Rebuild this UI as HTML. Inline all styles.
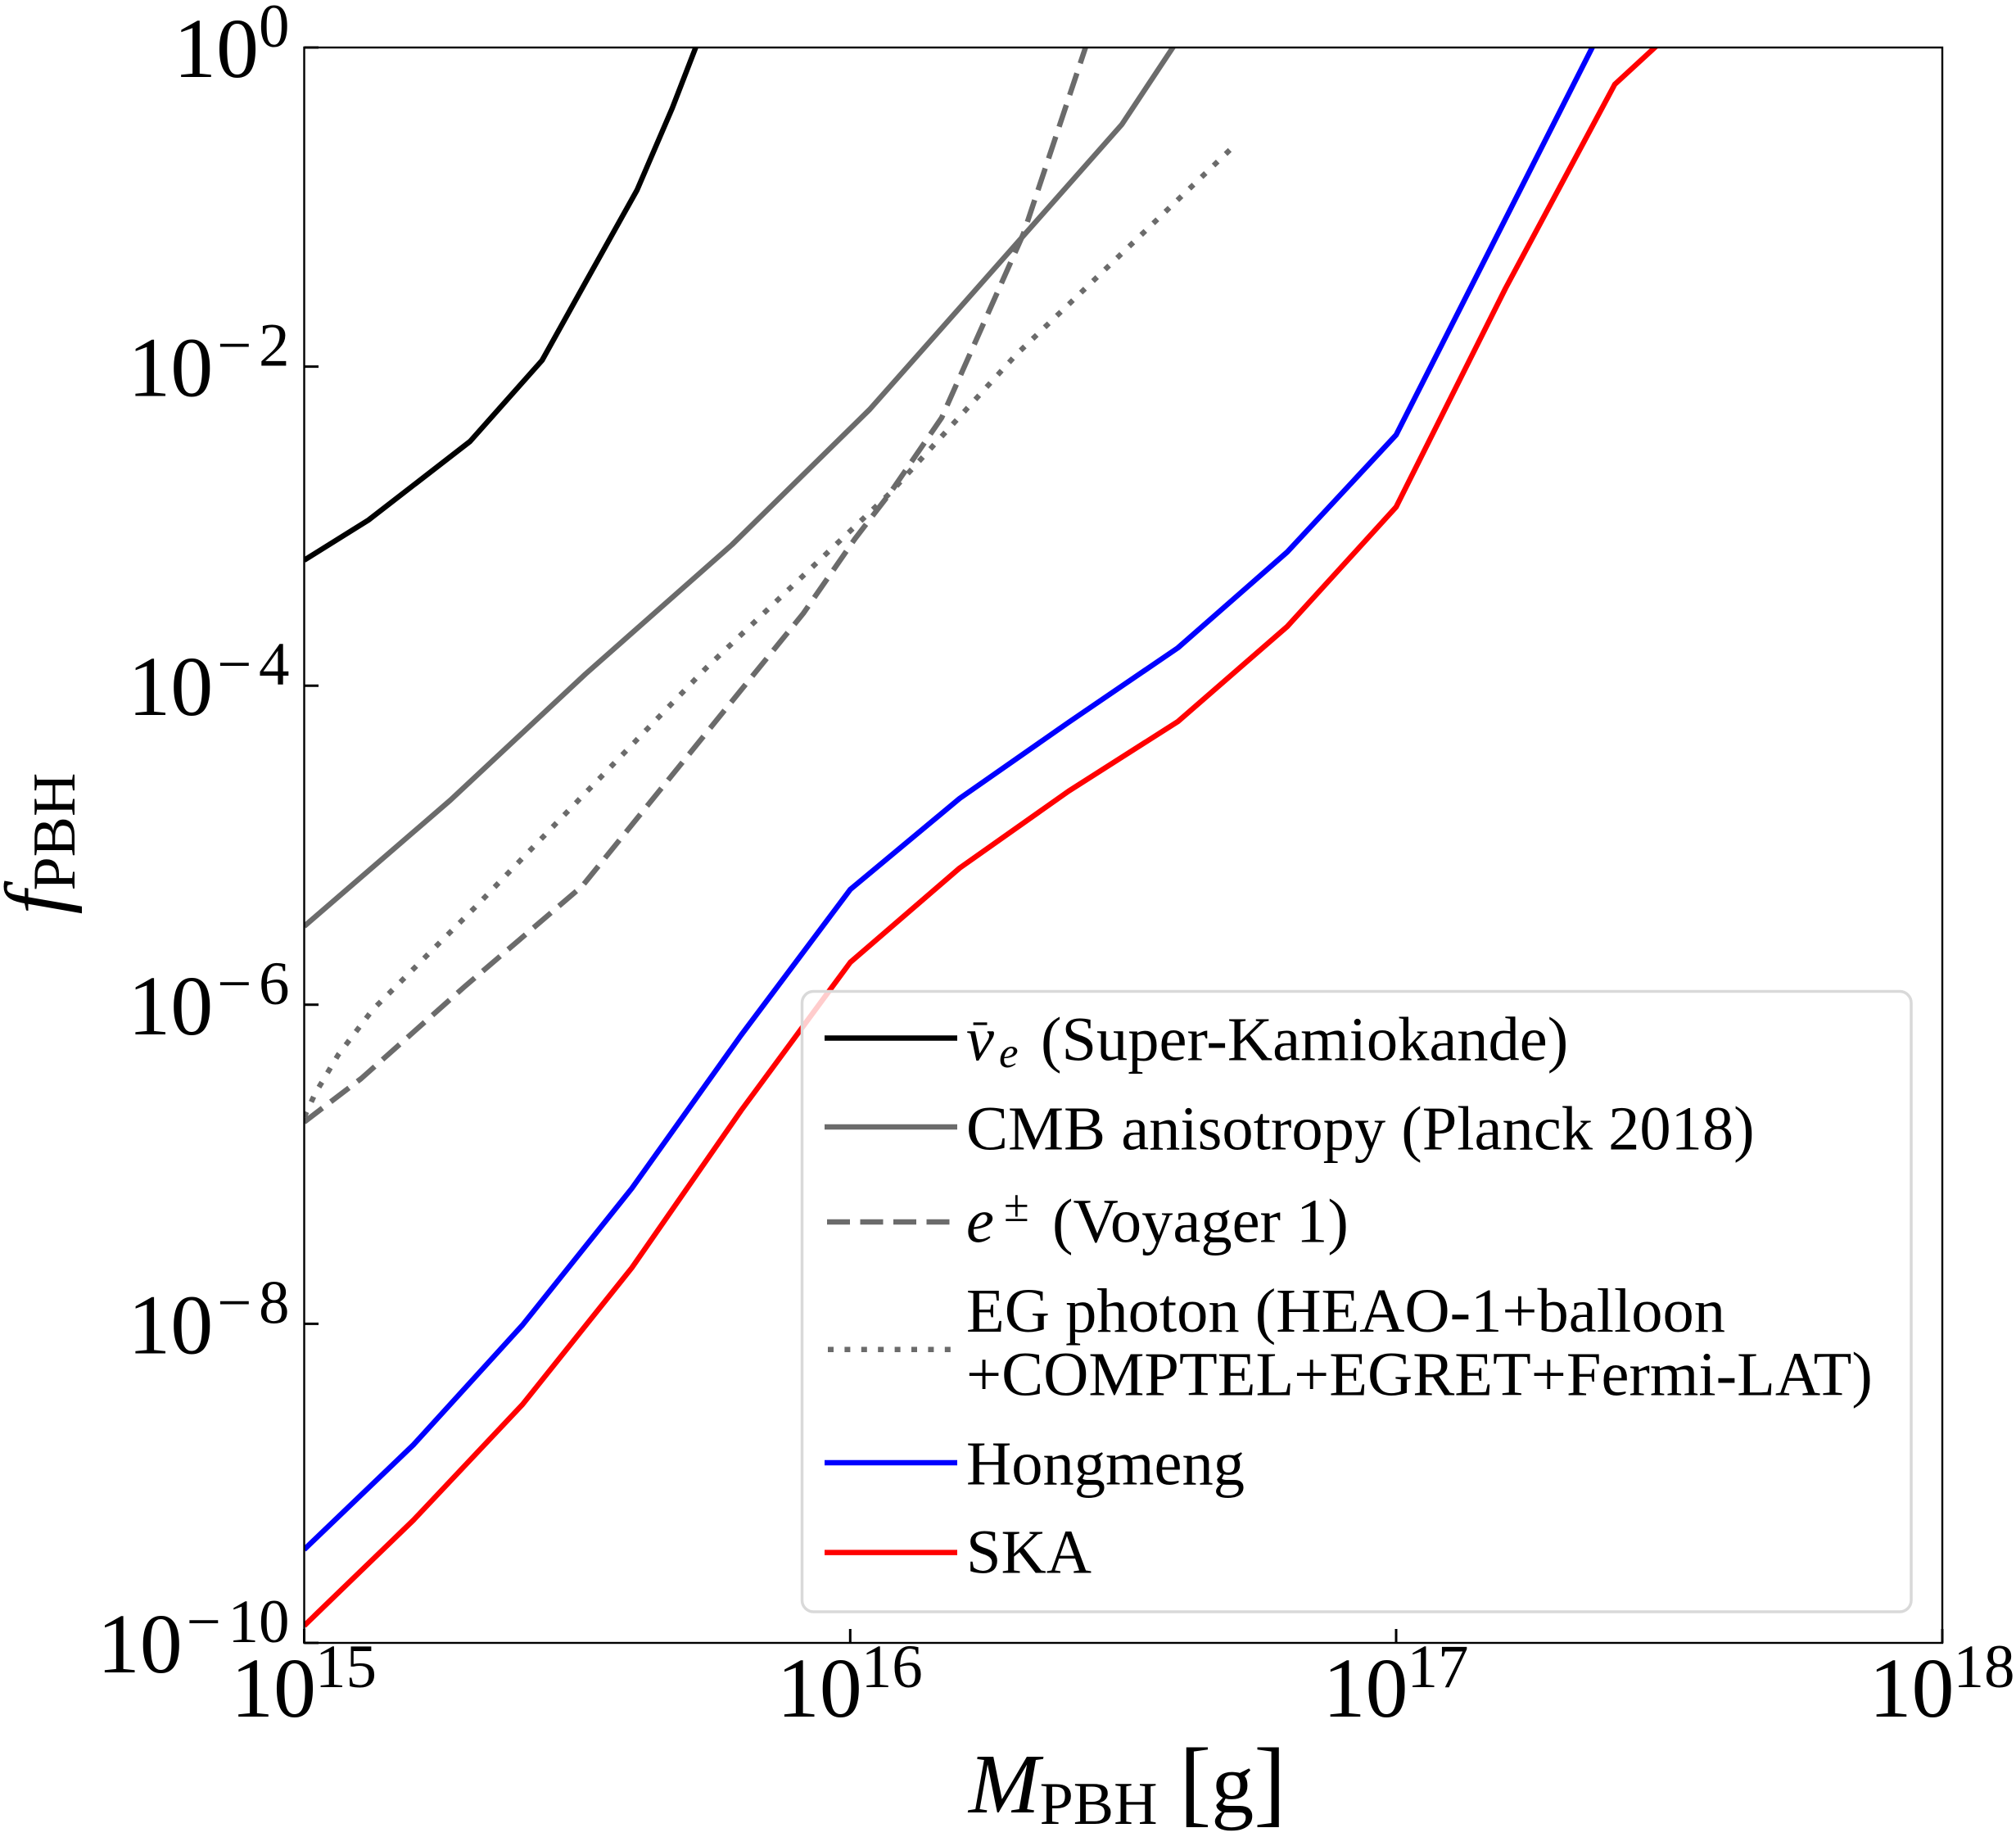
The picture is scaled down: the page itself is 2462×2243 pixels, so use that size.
<!DOCTYPE html>
<html>
<head>
<meta charset="utf-8">
<style>
html,body{margin:0;padding:0;background:#fff;}
svg{display:block;}
text{font-family:"Liberation Serif","DejaVu Serif",serif;fill:#000;}
</style>
</head>
<body>
<svg xmlns="http://www.w3.org/2000/svg" width="2462" height="2243" viewBox="0 0 2462 2243">
<defs>
<clipPath id="c"><rect x="371.5" y="58" width="2000.5" height="1948"/></clipPath>
</defs>
<rect width="2462" height="2243" fill="#fff"/>

<g clip-path="url(#c)" fill="none" stroke-width="6.5" stroke-linejoin="round">
  <path stroke="#000" d="M371.5,684 L450,635 L574,539 L662,440 L716,343 L778,232 L821,132 L850,57 L857,39"/>
  <path stroke="#6b6b6b" d="M371.5,1131 L550,977 L715,823 L894,665 L1062,500 L1171,377 L1370,152 L1433,57 L1445,39"/>
  <path stroke="#6b6b6b" stroke-dasharray="28 12.8" stroke-linecap="butt" d="M371.5,1370 L441,1317 L567,1205 L711,1082 L890,861 L981,749 L1044,658 L1087,602 L1150,510 L1250,285 L1326,57 L1332,39"/>
  <path stroke="#6b6b6b" stroke-dasharray="7 13.4" stroke-linecap="butt" d="M371.5,1364 L385,1335 L413,1288 L455,1233 L581,1107 L862,816 L1087,602 L1241,433 L1502,183"/>
  <path stroke="#0000ff" d="M371.5,1892 L505,1764 L638,1618 L771.6,1451 L905,1264 L1038.4,1086 L1171.8,975 L1305,882 L1438.5,791 L1572,674 L1705,531 L1945,57 L1954,39"/>
  <path stroke="#ff0000" d="M371.5,1985 L505,1856 L638,1715 L771.6,1548 L905,1356 L1038.4,1175 L1171.8,1060 L1305,966 L1438.5,881 L1572,765 L1705,619 L1838.6,352 L1972,103 L2022,57 L2041,39"/>
</g>

<rect x="371.5" y="58" width="2000.5" height="1948" fill="none" stroke="#000" stroke-width="2.4"/>

<g stroke="#000" stroke-width="3">
  <line x1="371.5" y1="58" x2="389" y2="58"/>
  <line x1="371.5" y1="447.6" x2="389" y2="447.6"/>
  <line x1="371.5" y1="837.2" x2="389" y2="837.2"/>
  <line x1="371.5" y1="1226.8" x2="389" y2="1226.8"/>
  <line x1="371.5" y1="1616.4" x2="389" y2="1616.4"/>
  <line x1="371.5" y1="2006" x2="389" y2="2006"/>
  <line x1="371.5" y1="2006" x2="371.5" y2="1989"/>
  <line x1="1038.3" y1="2006" x2="1038.3" y2="1989"/>
  <line x1="1705" y1="2006" x2="1705" y2="1989"/>
  <line x1="2372" y1="2006" x2="2372" y2="1989"/>
</g>

<g font-size="104">
  <text><tspan x="212" y="94">10</tspan><tspan x="316" y="57" font-size="75">0</tspan></text>
  <text><tspan x="156.2" y="483.6">10</tspan><tspan x="265.2" y="446.6" font-size="75">−</tspan><tspan x="316" y="446.6" font-size="75">2</tspan></text>
  <text><tspan x="156.2" y="873.2">10</tspan><tspan x="265.2" y="836.2" font-size="75">−</tspan><tspan x="316" y="836.2" font-size="75">4</tspan></text>
  <text><tspan x="156.2" y="1262.8">10</tspan><tspan x="265.2" y="1225.8" font-size="75">−</tspan><tspan x="316" y="1225.8" font-size="75">6</tspan></text>
  <text><tspan x="156.2" y="1652.4">10</tspan><tspan x="265.2" y="1615.4" font-size="75">−</tspan><tspan x="316" y="1615.4" font-size="75">8</tspan></text>
  <text><tspan x="118.7" y="2042">10</tspan><tspan x="227.7" y="2005" font-size="75">−</tspan><tspan x="278.5" y="2005" font-size="75">10</tspan></text>
</g>

<g font-size="104">
  <text><tspan x="282" y="2096">10</tspan><tspan x="385" y="2060" font-size="75">15</tspan></text>
  <text><tspan x="948.8" y="2096">10</tspan><tspan x="1051.8" y="2060" font-size="75">16</tspan></text>
  <text><tspan x="1615.5" y="2096">10</tspan><tspan x="1718.5" y="2060" font-size="75">17</tspan></text>
  <text><tspan x="2282.5" y="2096">10</tspan><tspan x="2385.5" y="2060" font-size="75">18</tspan></text>
</g>

<text font-size="104"><tspan x="1183" y="2213" font-style="italic">M</tspan><tspan font-size="74" dy="14">PBH</tspan><tspan x="1440" y="2215" font-size="118">[</tspan><tspan y="2213">g</tspan><tspan y="2215" font-size="118">]</tspan></text>
<text font-size="104" text-anchor="middle" transform="translate(78,1030) rotate(-90)"><tspan font-style="italic">f</tspan><tspan font-size="74" dy="13">PBH</tspan></text>

<rect x="979.5" y="1210.5" width="1354.5" height="757.5" rx="14" ry="14" fill="#fff" fill-opacity="0.8" stroke="#d9d9d9" stroke-width="3.5"/>
<g fill="none" stroke-width="6.5">
  <line x1="1007" y1="1267.5" x2="1169" y2="1267.5" stroke="#000"/>
  <line x1="1007" y1="1376" x2="1169" y2="1376" stroke="#6b6b6b"/>
  <line x1="1010" y1="1492" x2="1169" y2="1492" stroke="#6b6b6b" stroke-dasharray="28 12.5"/>
  <line x1="1011" y1="1647.7" x2="1169" y2="1647.7" stroke="#6b6b6b" stroke-dasharray="7 13.4"/>
  <line x1="1007" y1="1786" x2="1169" y2="1786" stroke="#0000ff"/>
  <line x1="1007" y1="1895.6" x2="1169" y2="1895.6" stroke="#ff0000"/>
</g>
<g font-size="76.5">
  <text><tspan x="1180" y="1294.6" font-style="italic">ν</tspan><tspan x="1220" y="1303" font-size="53" font-style="italic">e</tspan><tspan x="1271" y="1294.6">(Super-Kamiokande)</tspan></text>
  <line x1="1188.6" y1="1250" x2="1205.5" y2="1250" stroke="#000" stroke-width="3.2"/>
  <text x="1180" y="1403.3">CMB anisotropy (Planck 2018)</text>
  <text><tspan x="1180" y="1516.5" font-style="italic">e</tspan><tspan x="1226" y="1491" font-size="56">±</tspan><tspan x="1285" y="1516.5">(Voyager 1)</tspan></text>
  <text x="1180" y="1626">EG photon (HEAO-1+balloon</text>
  <text x="1180" y="1703.5">+COMPTEL+EGRET+Fermi-LAT)</text>
  <text x="1180" y="1812.4">Hongmeng</text>
  <text x="1180" y="1920.6">SKA</text>
</g>
</svg>
</body>
</html>
